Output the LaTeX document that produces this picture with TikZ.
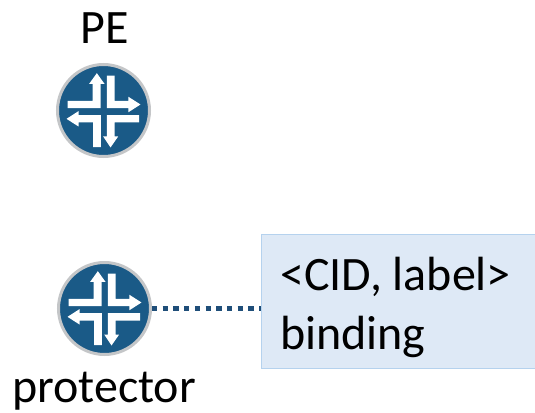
\documentclass[tikz,border=0pt]{standalone}
\usepackage{fontspec}
\setmainfont{Carlito}
\definecolor{routerblue}{HTML}{1A5A87}
\definecolor{ringgray}{HTML}{C4C6C8}
\definecolor{dotblue}{HTML}{1F4E79}
\definecolor{boxfill}{HTML}{DEE9F6}
\definecolor{boxline}{HTML}{B5D2EE}
\tikzset{
  router/.style={circle,fill=routerblue,draw=ringgray,line width=3pt,minimum size=92pt,inner sep=0pt,outer sep=1.5pt},
  arrowshape/.style={fill=white,draw=none},
  lbl/.style={font=\fontsize{48}{54}\selectfont,text=black,inner sep=0pt},
  binding/.style={draw=boxline,fill=boxfill,line width=1pt,minimum width=277pt,minimum height=134pt,inner sep=0pt,outer sep=0pt},
  link/.style={draw=dotblue,line width=5.5pt,dash pattern=on 5.3pt off 5.4pt},
  pics/arrows/.style={code={
    \begin{scope}[x=0.3333pt,y=-0.3333pt]
    \fill[arrowshape] (-108,-29)--(-33,-29)--(-33,-80)--(-43,-80)--(-20,-112)--(3,-80)--(-9,-80)--(-9,-7)--(-108,-7)--cycle;
    \fill[arrowshape] (10,-105)--(33,-105)--(33,-29)--(75,-29)--(75,-41)--(111,-18)--(75,5)--(75,-7)--(10,-7)--cycle;
    \fill[arrowshape] (-111,25)--(-75,2)--(-75,14)--(-8,14)--(-8,110)--(-31,110)--(-31,36)--(-75,36)--(-75,48)--cycle;
    \fill[arrowshape] (10,14)--(107,14)--(107,36)--(33,36)--(33,78)--(44,78)--(21,111)--(-1,78)--(10,78)--cycle;
    \end{scope}
  }}
}
\begin{document}
\begin{tikzpicture}[x=1pt,y=-1pt]
\useasboundingbox (0,0) rectangle (535,412);
\clip (0,0) rectangle (535,412);
\node[router] (pe) at (103.5,110.5) {};
\pic at (pe.center) {arrows};
\node[router] (prot) at (104.5,308.5) {};
\pic at (prot.center) {arrows};
\node[binding,anchor=north west] (bind) at (261,234.5) {};
\draw[link] (prot.east) -- (prot.east -| bind.west);
\node[lbl,anchor=base] (pelabel) at (104.5,44) {PE};
\node[lbl,anchor=base] (protlabel) at (104,402) {protector};
\node[lbl,anchor=base west] (l1) at (280,290) {<CID, label>};
\node[lbl,anchor=base west] (l2) at (280,349) {binding};
\end{tikzpicture}
\end{document}
